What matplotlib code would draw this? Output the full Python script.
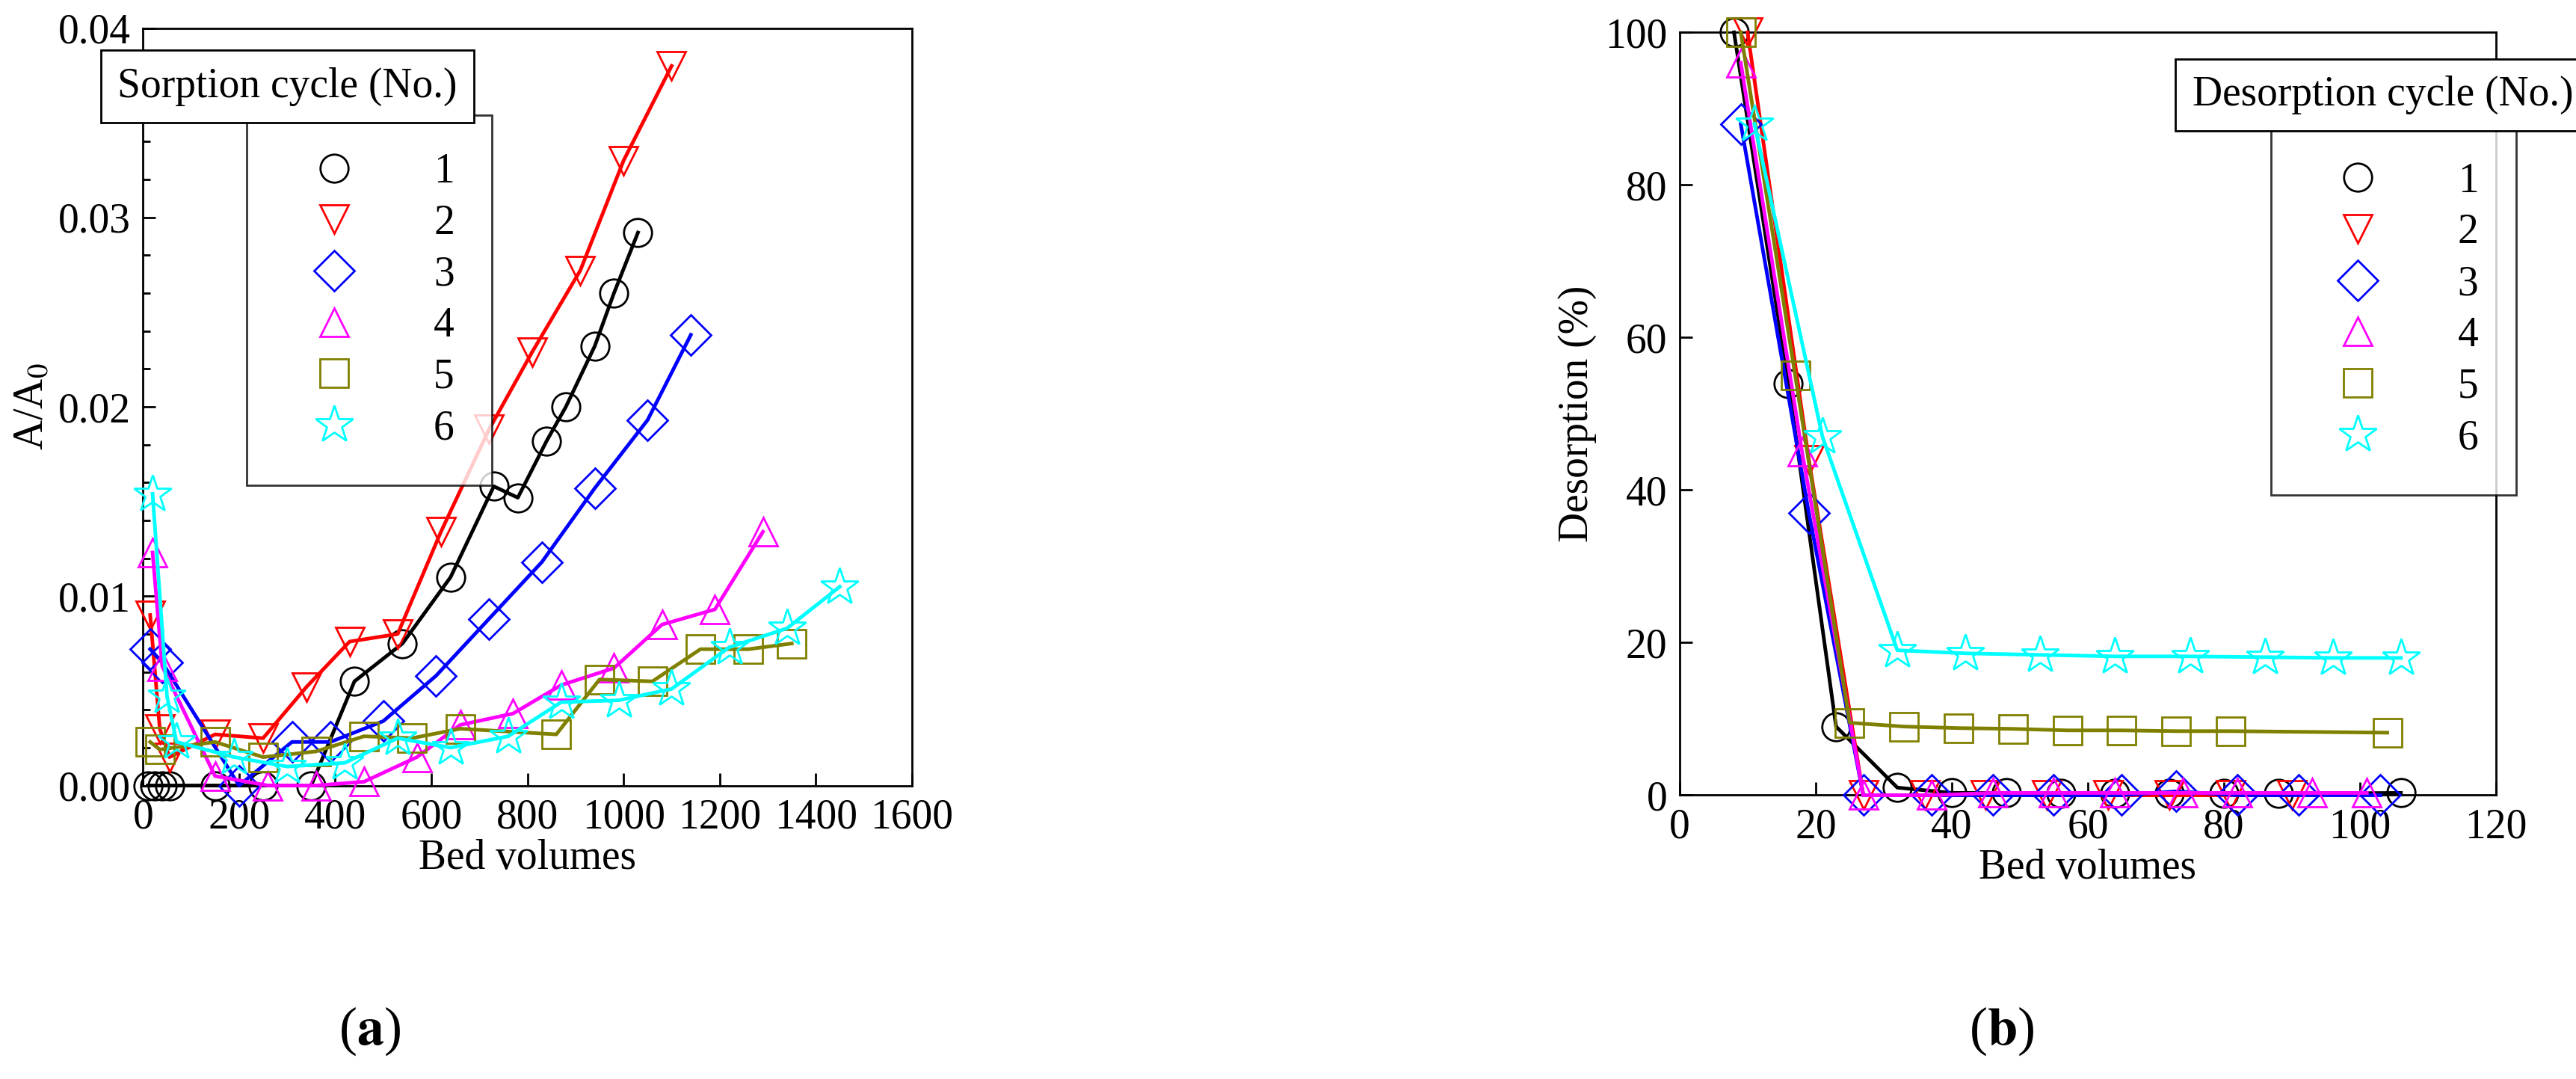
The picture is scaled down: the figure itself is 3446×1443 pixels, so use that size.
import matplotlib.pyplot as plt
from matplotlib.lines import Line2D
from matplotlib.ticker import AutoMinorLocator, FormatStrFormatter

plt.rcParams['font.family'] = ['Liberation Serif', 'DejaVu Serif']
plt.rcParams['mathtext.fontset'] = 'stix'

cycles = ['1', '2', '3', '4', '5', '6']
colors = ['black', 'red', 'blue', 'magenta', 'olive', 'cyan']
markers = ['o', 'v', 'D', '^', 's', '*']

# (a) sorption, A/A0 (values in units of 1e-3)
sorp_x = [
    [10, 25, 40, 55, 150, 250, 350, 440, 540, 640, 730, 780, 840, 880, 940, 980, 1030],
    [15, 35, 55, 150, 250, 340, 430, 530, 620, 720, 810, 910, 1000, 1100],
    [15, 40, 200, 310, 390, 500, 610, 720, 830, 940, 1050, 1140],
    [20, 40, 150, 260, 360, 460, 570, 660, 770, 870, 980, 1080, 1190, 1290],
    [15, 35, 150, 250, 360, 460, 560, 660, 860, 950, 1060, 1160, 1260, 1350],
    [20, 50, 70, 190, 300, 420, 530, 640, 760, 870, 990, 1100, 1220, 1340, 1450],
]
sorp_y = [
    [0, 0, 0, 0, 0, 0, 0, 5.5, 7.5, 11, 15.8, 15.2, 18.2, 20, 23.2, 26, 29.2],
    [9, 3, 1.5, 2.7, 2.5, 5.2, 7.6, 8, 13.4, 18.8, 22.9, 27.2, 33, 38],
    [7.2, 6.5, 0, 2.3, 2.3, 3.4, 5.8, 8.8, 11.8, 15.7, 19.3, 23.8],
    [12.3, 6.3, 0.5, 0, 0, 0.2, 1.5, 3.2, 3.8, 5.3, 6.2, 8.5, 9.3, 13.4],
    [2.3, 1.9, 2.3, 1.5, 1.8, 2.6, 2.5, 3.0, 2.7, 5.6, 5.5, 7.2, 7.2, 7.5],
    [15.4, 4.7, 2.3, 1.5, 1.0, 1.2, 2.5, 2.0, 2.6, 4.4, 4.5, 5.1, 7.3, 8.3, 10.5],
]

# (b) desorption (%)
desorp_x = [
    [8, 16, 23, 32, 40, 48, 56, 64, 72, 80, 88, 106],
    [10, 19, 27, 36, 45, 54, 63, 72, 81, 90],
    [9, 19, 27, 37, 46, 55, 65, 73, 82, 91, 103],
    [9, 18, 27, 37, 46, 55, 64, 74, 82, 93, 101],
    [9, 17, 25, 33, 41, 49, 57, 65, 73, 81, 104],
    [11, 21, 32, 42, 53, 64, 75, 86, 96, 106],
]
desorp_y = [
    [100, 54, 9, 1, 0.3, 0.3, 0.2, 0.2, 0.2, 0.2, 0.2, 0.3],
    [100, 44, 0, 0, 0, 0, 0, 0, 0, 0],
    [88, 37, 0, 0, 0, 0, 0, 0.5, 0, 0, 0],
    [96, 45, 0, 0, 0.3, 0.3, 0.3, 0.3, 0.3, 0.3, 0.3],
    [100, 55, 9.5, 9, 8.8, 8.7, 8.5, 8.5, 8.4, 8.4, 8.2],
    [88, 47, 19, 18.6, 18.4, 18.2, 18.2, 18.1, 18, 18],
]

fig = plt.figure(figsize=(34.46, 14.43), dpi=100)
ax1 = fig.add_axes([0.0555, 0.272, 0.2985, 0.702])
ax2 = fig.add_axes([0.652, 0.263, 0.317, 0.707])

fs = 40


def msize(m):
    return 38 if m == '*' else 27


def draw(ax, xs, ys, scale):
    for x, y, c, m in zip(xs, ys, colors, markers):
        ax.plot(x, [v * scale for v in y], '-', color=c, lw=3.5, marker=m, ms=msize(m),
                mfc='none', mec=c, mew=2, clip_on=False, zorder=3)


def legend(ax, title, tx0, tx1, ty0, ty1, lx0, ly1):
    handles = [Line2D([], [], ls='none', marker=m, color=c, mfc='none', mew=2,
                      ms=msize(m)) for c, m in zip(colors, markers)]
    leg = ax.legend(handles, cycles, loc='upper left', bbox_to_anchor=(lx0, ly1),
                    fontsize=fs, frameon=True, fancybox=False, edgecolor='black',
                    labelspacing=0.3, handletextpad=1.2, borderpad=0.9,
                    borderaxespad=0, handlelength=2.4)
    leg.get_frame().set_linewidth(2)
    leg.get_frame().set_boxstyle('square', pad=0)
    ax.text((tx0 + tx1) / 2, (ty0 + ty1) / 2, title, transform=ax.transAxes,
            ha='center', va='center', fontsize=fs, zorder=6,
            bbox=dict(boxstyle='square,pad=0.4', fc='white', ec='black', lw=2))


draw(ax1, sorp_x, sorp_y, 1e-3)
ax1.set_xlim(0, 1600)
ax1.set_ylim(0, 0.04)
ax1.set_xticks(range(0, 1601, 200))
ax1.set_yticks([0, 0.01, 0.02, 0.03, 0.04])
ax1.yaxis.set_major_formatter(FormatStrFormatter('%.2f'))
ax1.yaxis.set_minor_locator(AutoMinorLocator(5))
ax1.set_xlabel('Bed volumes', fontsize=fs, labelpad=2)
ax1.set_ylabel('A/A$_0$', fontsize=fs, labelpad=6)
legend(ax1, 'Sorption cycle (No.)', 0.017, 0.359, 0.885, 0.961, 0.135, 0.885)

draw(ax2, desorp_x, desorp_y, 1)
ax2.set_xlim(0, 120)
ax2.set_ylim(0, 100)
ax2.set_xticks(range(0, 121, 20))
ax2.set_yticks(range(0, 101, 20))
ax2.set_xlabel('Bed volumes', fontsize=fs, labelpad=2)
ax2.set_ylabel('Desorption (%)', fontsize=fs, labelpad=8)
legend(ax2, 'Desorption cycle (No.)', 0.724, 0.998, 0.879, 0.957, 0.724, 0.879)

for ax in (ax1, ax2):
    ax.tick_params(which='both', direction='in', labelsize=fs, width=2)
    ax.tick_params(which='major', length=12, pad=12)
    ax.tick_params(which='minor', length=7)
    for s in ax.spines.values():
        s.set_linewidth(2)

fig.text(0.1435, 0.044, '($\\mathbf{a}$)', fontsize=52, ha='center', va='center')
fig.text(0.777, 0.044, '($\\mathbf{b}$)', fontsize=52, ha='center', va='center')

fig.savefig('out.png', dpi=100)
